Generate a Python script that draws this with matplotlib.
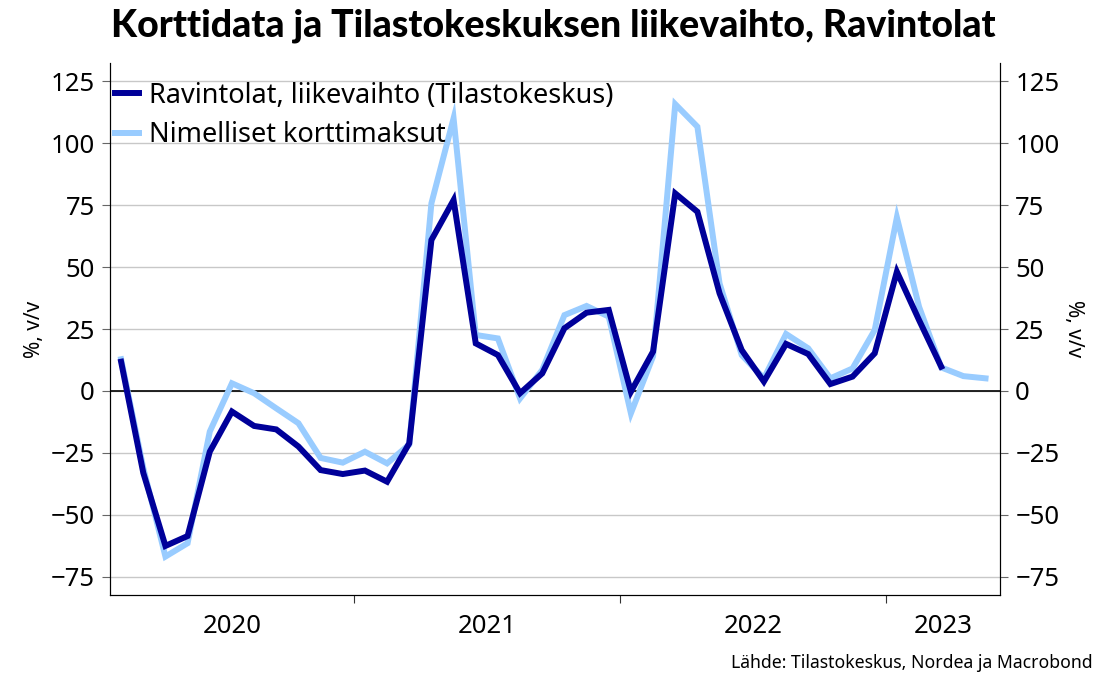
import matplotlib.pyplot as plt
import numpy as np

# month index: Jan 2020 = 0, points sit in the middle of each month
months_rev = np.arange(1, 39)     # Feb 2020 .. Mar 2023
months_card = np.arange(1, 41)    # Feb 2020 .. May 2023

revenue = [11.8, -33, -62.5, -58.5, -24.5, -8.3, -14.1, -15.5, -22.4, -31.9, -33.5, -32.1,
           -36.6, -21.1, 60.9, 77, 19.2, 14.5, -0.9, 7.1, 25.3, 31.6, 32.7, -0.3,
           15.9, 79.7, 72.3, 39.4, 16.5, 3.8, 19, 14.9, 2.8, 5.8, 15.2, 48.1,
           28.6, 9.8]
card = [12.8, -31, -66.8, -61.4, -16.4, 3.1, -0.9, -7, -13, -27, -28.9, -24.5,
        -29.2, -21.6, 75.7, 110, 22.6, 21.2, -3, 8.5, 30.6, 34.3, 30, -9,
        14, 115.7, 106.6, 43.4, 14.5, 5.1, 23, 17.2, 5.1, 9.1, 24.6, 70,
        34, 9.5, 6, 5.1]

year_labels = ['2020', '2021', '2022', '2023']
year_bounds = [11.5, 23.5, 35.5]
yticks = [-75, -50, -25, 0, 25, 50, 75, 100, 125]

plt.rcParams['font.family'] = ['Noto Sans', 'DejaVu Sans']

fig = plt.figure(figsize=(10.98, 6.76), dpi=100)
ax = fig.add_axes([0.1002, 0.1198, 0.8105, 0.787])
xmin, xmax = 0.5, 40.65

for y in yticks:
    ax.axhline(y, color='#c8c8c8', lw=1, zorder=0)
ax.axhline(0, color='black', lw=1.2, zorder=1)

ax.plot(months_card, card, color='#99ccff', lw=4.3, label='Nimelliset korttimaksut',
        solid_joinstyle='miter', zorder=2)
ax.plot(months_rev, revenue, color='#000099', lw=4.3,
        label='Ravintolat, liikevaihto (Tilastokeskus)', solid_joinstyle='miter', zorder=3)

ax.set_xlim(xmin, xmax)
ax.set_ylim(-82.3, 132.3)
ax.set_yticks(yticks)
ax.tick_params(axis='y', labelsize=18.5, length=6, color='#666666', direction='out', pad=5)
ax.set_ylabel('%, v/v', fontsize=15, labelpad=4)

ax.set_xticks(year_bounds)
ax.set_xticklabels([])
ax.tick_params(axis='x', length=6, color='#333333')
centers = [(xmin + year_bounds[0]) / 2, (year_bounds[0] + year_bounds[1]) / 2,
           (year_bounds[1] + year_bounds[2]) / 2, (year_bounds[2] + xmax) / 2]
for c, lab in zip(centers, year_labels):
    ax.text(c, -0.06, lab, transform=ax.get_xaxis_transform(), ha='center', va='center',
            fontsize=18.5)

ax.spines['top'].set_visible(False)
for s in ['left', 'right', 'bottom']:
    ax.spines[s].set_color('black')

ax2 = ax.twinx()
ax2.set_ylim(ax.get_ylim())
ax2.set_yticks(yticks)
ax2.tick_params(axis='y', labelsize=18.5, length=6, color='#666666', pad=5)
ax2.set_ylabel('%, v/v', fontsize=15, rotation=270, labelpad=18)
ax2.spines['top'].set_visible(False)

handles, labels = ax.get_legend_handles_labels()
ax.legend(handles[::-1], labels[::-1], loc='upper left', bbox_to_anchor=(-0.016, 1.0),
          frameon=False, fontsize=19.5, handlelength=0.9, handletextpad=0.35,
          labelspacing=0.42, borderaxespad=0.3)

fig.text(0.504, 0.962, 'Korttidata ja Tilastokeskuksen liikevaihto, Ravintolat',
         ha='center', va='center', fontsize=27, fontweight='black', family='Lato')
fig.text(0.995, 0.019, 'Lähde: Tilastokeskus, Nordea ja Macrobond', ha='right',
         va='center', fontsize=12.7)

fig.savefig('out.png', dpi=100)
